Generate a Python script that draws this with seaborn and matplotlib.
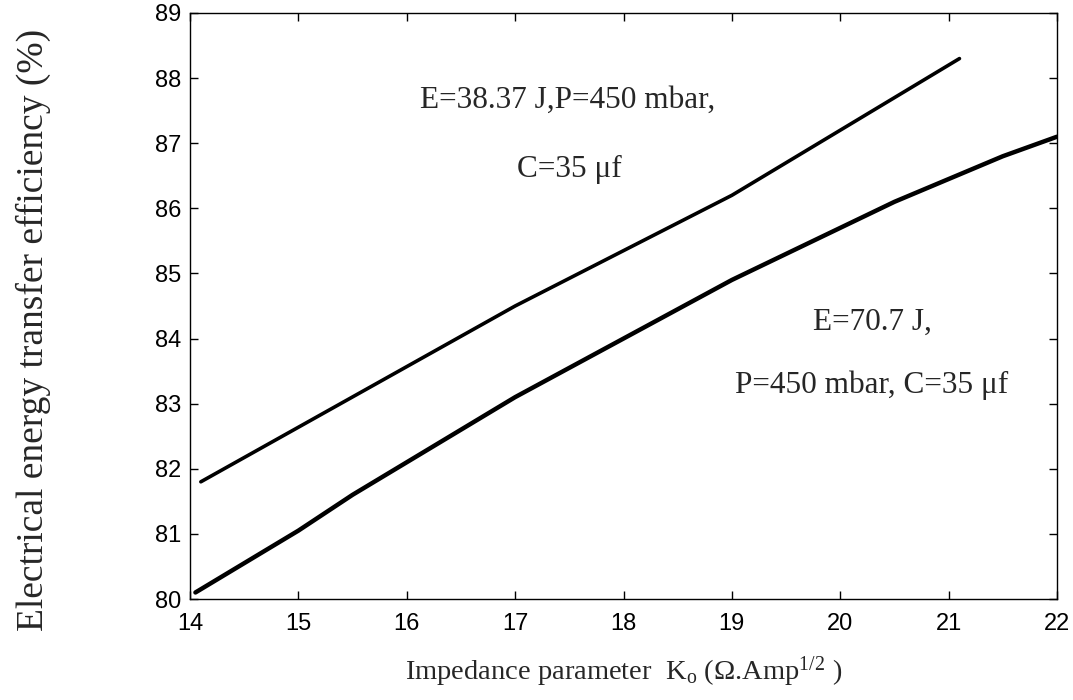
import matplotlib
matplotlib.use("Agg")
import matplotlib.pyplot as plt
import pandas as pd
import seaborn as sns

# upper curve: E=38.37 J
k_upper = [14.1, 17.0, 19.0, 21.1]
eff_upper = [81.8, 84.5, 86.2, 88.3]

# lower curve: E=70.7 J
k_lower = [14.05, 14.5, 15.0, 15.5, 16.0, 16.5, 17.0, 17.5, 18.0, 18.5,
           19.0, 19.5, 20.0, 20.5, 21.0, 21.5, 22.0]
eff_lower = [80.1, 80.55, 81.05, 81.6, 82.1, 82.6, 83.1, 83.55, 84.0, 84.45,
             84.9, 85.3, 85.7, 86.1, 86.45, 86.8, 87.1]

x_ticks = [14, 15, 16, 17, 18, 19, 20, 21, 22]
y_ticks = [80, 81, 82, 83, 84, 85, 86, 87, 88, 89]

sns.set_style("ticks")
plt.rcParams["font.family"] = ["Liberation Sans", "DejaVu Sans"]
plt.rcParams["mathtext.fontset"] = "custom"
plt.rcParams["mathtext.rm"] = "Liberation Serif"
plt.rcParams["mathtext.it"] = "Liberation Serif:italic"

df_up = pd.DataFrame({"k": k_upper, "eff": eff_upper})
df_lo = pd.DataFrame({"k": k_lower, "eff": eff_lower})

fig = plt.figure(figsize=(10.73, 7.0), dpi=100)
ax = fig.add_axes([190 / 1073, 1 - 599 / 700, 867 / 1073, 586 / 700])

sns.lineplot(data=df_up, x="k", y="eff", ax=ax, color="black", linewidth=2.6)
sns.lineplot(data=df_lo, x="k", y="eff", ax=ax, color="black", linewidth=3.2)

ax.set_xlim(14, 22)
ax.set_ylim(80, 89)
ax.set_xticks(x_ticks)
ax.set_yticks(y_ticks)
for s in ax.spines.values():
    s.set_visible(True)
    s.set_linewidth(1.0)
    s.set_color("black")
ax.tick_params(direction="in", length=6, width=1.0, top=True, right=True,
               labelsize=17, colors="black")
ax.tick_params(axis="x", pad=10)
ax.tick_params(axis="y", pad=6)

serif = ["Liberation Serif", "DejaVu Serif"]
ax.set_xlabel(r"Impedance parameter  K$_{\mathrm{o}}$ ($\Omega$.Amp$^{1/2}$ )",
              family=serif, fontsize=20.5, labelpad=14)
ax.set_ylabel("")
fig.text(33 / 1073, 1 - 330 / 700, "Electrical energy transfer efficiency (%)",
         family=serif, fontsize=27, rotation=90, ha="center", va="center")

ax.text(16.12, 87.66, "E=38.37 J,P=450 mbar,", family=serif, fontsize=22.5,
        ha="left", va="center")
ax.text(17.02, 86.6, "C=35 \u03bcf", family=serif, fontsize=22.5,
        ha="left", va="center")
ax.text(19.75, 84.25, "E=70.7 J,", family=serif, fontsize=22.5,
        ha="left", va="center")
ax.text(19.03, 83.29, "P=450 mbar, C=35 \u03bcf", family=serif, fontsize=22.5,
        ha="left", va="center")

fig.savefig("out.png", dpi=100, facecolor="white")
plt.close(fig)
